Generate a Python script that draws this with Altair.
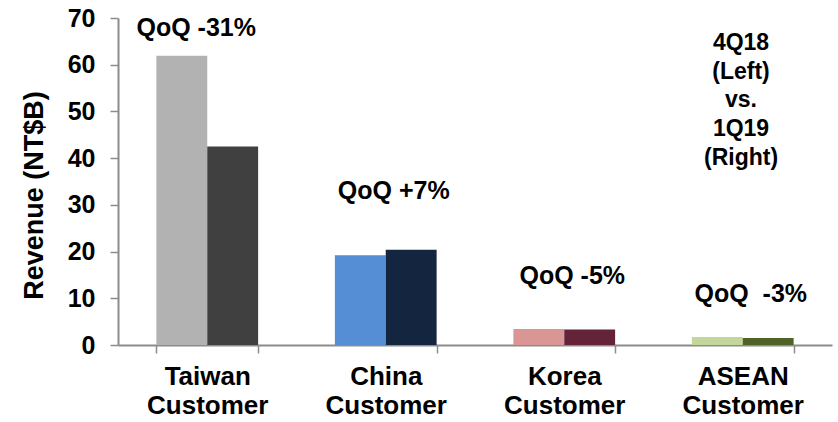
import altair as alt
import pandas as pd

# ---- data ----
categories = ["Taiwan Customer", "China Customer", "Korea Customer", "ASEAN Customer"]
periods = ["4Q18", "1Q19"]
rev_4q18 = [61.9, 19.2, 3.4, 1.7]
rev_1q19 = [42.5, 20.4, 3.3, 1.5]
colors_4q18 = ["#B2B2B2", "#558ED5", "#D99694", "#C3D69B"]
colors_1q19 = ["#404040", "#14253F", "#632339", "#4F6228"]
qoq_labels = ["QoQ -31%", "QoQ +7%", "QoQ -5%", "QoQ\u00a0\u00a0-3%"]
qoq_label_y = [66.2, 31.2, 13.0, 9.3]
y_ticks = [0, 10, 20, 30, 40, 50, 60, 70]
note_text = ["4Q18", "(Left)", "\u00a0vs.", "1Q19", "(Right)"]

FONT = "Liberation Sans"
AXIS_GRAY = "#8C8C8C"

rows = []
keys, key_colors = [], []
for i, c in enumerate(categories):
    for p, vals, cols in [("4Q18", rev_4q18, colors_4q18), ("1Q19", rev_1q19, colors_1q19)]:
        k = f"{c}|{p}"
        rows.append({"category": c, "period": p, "value": vals[i], "key": k})
        keys.append(k)
        key_colors.append(cols[i])
bars_df = pd.DataFrame(rows)

ann_df = pd.DataFrame({"category": categories, "label": qoq_labels, "y": qoq_label_y})

x_enc = alt.X(
    "category:N",
    sort=categories,
    scale=alt.Scale(paddingInner=0.43, paddingOuter=0.215),
    axis=alt.Axis(
        title=None,
        labelAngle=0,
        tickBand="extent",
        labelExpr="split(datum.label, ' ')",
        labelFont=FONT,
        labelFontWeight="bold",
        labelFontSize=26,
        labelColor="#000000",
        labelLineHeight=29,
        labelPadding=10,
        labelBaseline="top",
        domainColor=AXIS_GRAY,
        domainWidth=2,
        tickColor=AXIS_GRAY,
        tickWidth=1.5,
        tickSize=8,
        grid=False,
    ),
)

y_scale = alt.Scale(domain=[0, 70], nice=False, zero=True)

bars = alt.Chart(bars_df).mark_bar().encode(
    x=x_enc,
    xOffset=alt.XOffset("period:N", sort=periods, scale=alt.Scale(paddingInner=0, paddingOuter=0)),
    y=alt.Y(
        "value:Q",
        scale=y_scale,
        axis=alt.Axis(
            values=y_ticks,
            title="Revenue (NT$B)",
            titleFont=FONT,
            titleFontWeight="bold",
            titleFontSize=27,
            titleColor="#000000",
            titleAngle=270,
            titleAlign="center",
            titleBaseline="alphabetic",
            titleX=-76,
            titleY=177,
            labelFont=FONT,
            labelFontWeight="bold",
            labelFontSize=25,
            labelColor="#000000",
            labelPadding=15,
            domainColor=AXIS_GRAY,
            domainWidth=2,
            tickColor=AXIS_GRAY,
            tickWidth=1.5,
            tickSize=8,
            grid=False,
        ),
    ),
    color=alt.Color("key:N", scale=alt.Scale(domain=keys, range=key_colors), legend=None),
)

ann_first = alt.Chart(ann_df.iloc[[0]]).mark_text(
    font=FONT, fontWeight="bold", fontSize=25, color="#000000",
    align="center", baseline="alphabetic", dx=-11,
).encode(x=alt.X("category:N", sort=categories), y=alt.Y("y:Q", scale=y_scale), text="label:N")

ann_rest = alt.Chart(ann_df.iloc[1:]).mark_text(
    font=FONT, fontWeight="bold", fontSize=25, color="#000000",
    align="center", baseline="alphabetic", dx=8,
).encode(x=alt.X("category:N", sort=categories), y=alt.Y("y:Q", scale=y_scale), text="label:N")

note = alt.Chart(pd.DataFrame({"t": ["\n".join(note_text)]})).mark_text(
    font=FONT, fontWeight="bold", fontSize=23, color="#000000",
    align="center", baseline="alphabetic", lineBreak="\n", lineHeight=28.7,
).encode(x=alt.value(623), y=alt.value(32), text="t:N")

chart = (
    alt.layer(bars, ann_first, ann_rest, note)
    .properties(
        width=714,
        height=327,
        autosize=alt.AutoSizeParams(type="none"),
        padding={"left": 118, "top": 18, "right": 6, "bottom": 77},
        background="#FFFFFF",
    )
    .configure_view(stroke=None)
)

chart.save("out.html", embed_options={"renderer": "svg", "actions": False})
